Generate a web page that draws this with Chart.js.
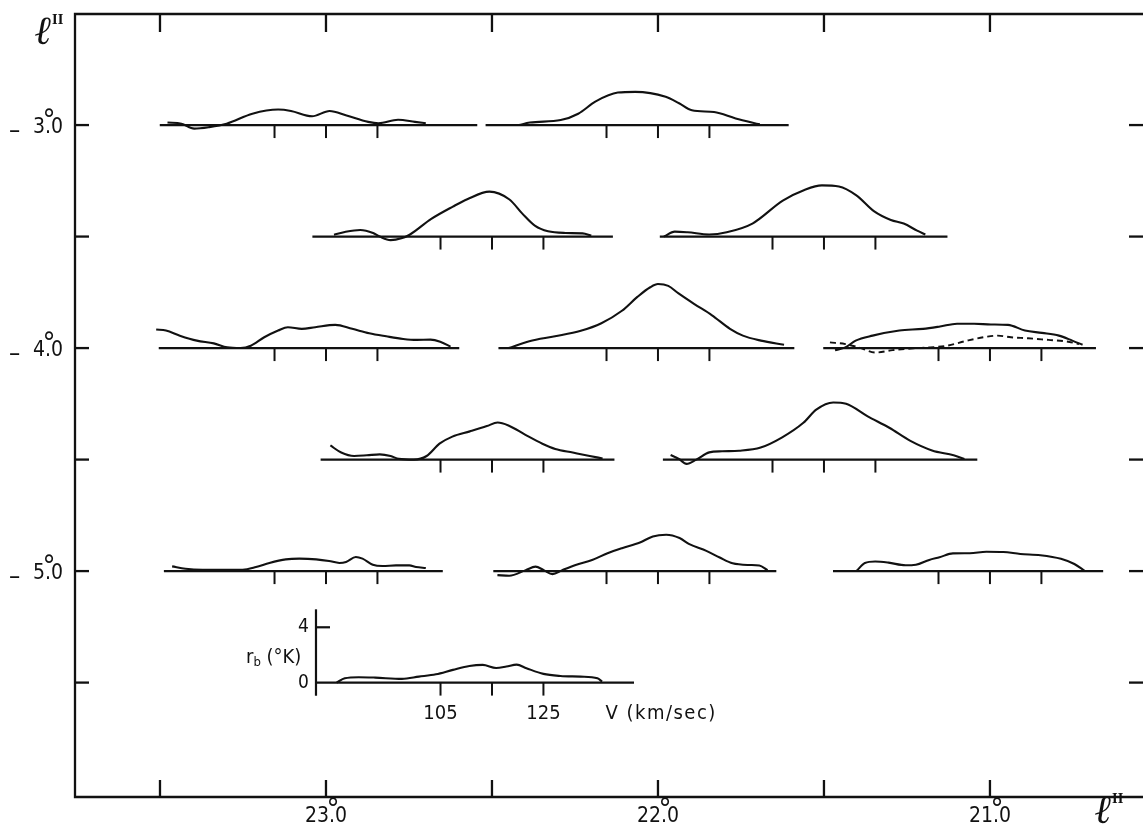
<!DOCTYPE html>
<html>
<head>
<meta charset="utf-8">
<script src="https://cdn.jsdelivr.net/npm/chart.js@4.4.0/dist/chart.umd.min.js"></script>
<style>
  html, body { margin: 0; padding: 0; background: #fff; }
  #wrap { width: 1143px; height: 826px; }
</style>
</head>
<body>
<div id="wrap"><canvas id="mapChart" width="1143" height="826"></canvas></div>
<script>
//---- Map frame: galactic longitude (reversed) and latitude, degrees ----
const L_MIN = 20.539, L_MAX = 23.756;
const B_MIN = -6.013, B_MAX = -2.502;
const lonTicks = [23.5, 23.0, 22.5, 22.0, 21.5, 21.0];
const lonLabels = [23, 22, 21];
const latTicks = [-3.0, -3.5, -4.0, -4.5, -5.0, -5.5];
const latLabels = [-3, -4, -5];

//---- Profile scale (same for every profile, shown by the key at 22.5, -5.5) ----
const V_CENTER = 115;          // km/s placed at the profile longitude
const DEG_PER_KMS = 0.0155;
const DEG_PER_K = 0.062;
const velTicks = [105, 115, 125];
const keyVelLabels = [105, 125];
const keyTempTicks = [0, 4];
const KEY_AXIS_V = 80.8;
const KEY_AXIS_T = [-0.95, 5.3];

//---- Profiles: velocity (km/s) and Tb (K) ----
const v_230_30 = [84.2, 86.9, 89.4, 92.3, 95.7, 100.7, 105.7, 108.2, 112.3, 115.7, 119.0, 123.2, 125.2, 129.0, 132.3, 134.4];
const t_230_30 = [0.18, 0.10, -0.26, -0.15, 0.10, 0.82, 1.12, 1.02, 0.64, 1.02, 0.69, 0.23, 0.13, 0.38, 0.23, 0.13];
const base_230_30 = [82.7, 144.4];

const v_220_30 = [88.0, 90.1, 96.1, 99.5, 102.9, 107.2, 110.6, 116.5, 119.1, 121.6, 125.9, 130.1, 134.8];
const t_220_30 = [0, 0.18, 0.36, 0.82, 1.71, 2.35, 2.40, 2.04, 1.58, 1.07, 0.94, 0.48, 0.05];
const base_220_30 = [81.5, 140.4];

const v_225_35 = [84.3, 86.4, 89.4, 91.9, 93.2, 95.3, 97.4, 99.0, 103.2, 107.4, 110.2, 114.5, 118.4, 120.9, 123.4, 125.9, 129.3, 132.6, 134.3];
const t_225_35 = [0.13, 0.33, 0.48, 0.26, 0, -0.26, -0.13, 0.13, 1.28, 2.17, 2.7, 3.25, 2.68, 1.66, 0.77, 0.38, 0.26, 0.23, 0.08];
const base_225_35 = [80.1, 138.5];

const v_215_35 = [83.9, 86.0, 88.5, 92.7, 96.1, 101.1, 107.0, 111.2, 114.6, 117.9, 121.3, 124.7, 128.0, 130.5, 133.1, 134.7];
const t_215_35 = [0, 0.36, 0.31, 0.15, 0.31, 0.94, 2.6, 3.37, 3.70, 3.62, 2.98, 1.84, 1.20, 0.94, 0.43, 0.15];
const base_215_35 = [83.1, 139.0];

const v_230_40 = [82.0, 83.9, 86.6, 89.9, 93.2, 95.8, 98.4, 100.4, 103.0, 105.7, 107.6, 110.3, 112.9, 116.8, 120.1, 123.4, 126.7, 130.0, 132.6, 135.3, 137.2, 139.2];
const t_230_40 = [1.34, 1.27, 0.90, 0.54, 0.34, 0.05, 0, 0.17, 0.78, 1.27, 1.51, 1.39, 1.51, 1.68, 1.39, 1.07, 0.85, 0.66, 0.59, 0.61, 0.46, 0.10];
const base_230_40 = [82.5, 140.9];

const v_220_40 = [86, 90, 95, 100, 104, 108, 111, 113.5, 115, 117, 119, 122, 125.5, 129, 131.5, 135, 139.5];
const t_220_40 = [0, 0.5, 0.85, 1.25, 1.8, 2.7, 3.7, 4.4, 4.63, 4.5, 3.95, 3.2, 2.37, 1.39, 0.9, 0.54, 0.24];
const base_220_40 = [84.0, 141.5];

const v_210_40 = [84.9, 86.9, 88.9, 92.2, 97.4, 102.0, 105.3, 108.6, 111.9, 115.2, 118.5, 121.8, 125.1, 128.4, 131.0, 133.0];
const t_210_40 = [-0.15, 0.05, 0.54, 0.90, 1.27, 1.39, 1.56, 1.76, 1.76, 1.71, 1.68, 1.27, 1.10, 0.90, 0.54, 0.24];
const v_210_40b = [83.9, 86.9, 89.5, 92.8, 96.1, 100.1, 103.4, 106.6, 110.6, 114.5, 116.5, 119.1, 122.4, 126.4, 129.7, 132.3];
const t_210_40b = [0.41, 0.29, 0.05, -0.32, -0.15, -0.02, 0.05, 0.17, 0.54, 0.83, 0.90, 0.78, 0.71, 0.59, 0.49, 0.29];
const base_210_40 = [82.6, 135.6];

const v_225_45 = [83.6, 85.7, 88.2, 90.7, 93.2, 95.3, 96.9, 99.8, 102.3, 104.8, 107.3, 110.7, 114.0, 116.1, 118.2, 121.5, 124.8, 127.3, 130.7, 134.0, 136.5];
const t_225_45 = [1.02, 0.51, 0.26, 0.31, 0.38, 0.26, 0.05, 0, 0.26, 1.15, 1.66, 2.04, 2.42, 2.68, 2.47, 1.79, 1.15, 0.77, 0.51, 0.26, 0.08];
const base_225_45 = [81.7, 138.8];

const v_215_45 = [85.2, 86.8, 88.3, 90.2, 92.7, 95.2, 98.5, 102.7, 106.8, 111.0, 113.5, 116.8, 119.3, 123.5, 127.7, 131.8, 136.0, 140.2, 142.3];
const t_215_45 = [0.33, 0.05, -0.31, 0, 0.52, 0.6, 0.64, 0.87, 1.59, 2.66, 3.61, 4.13, 4.04, 3.13, 2.30, 1.35, 0.66, 0.31, 0.05];
const base_215_45 = [83.7, 144.8];

const v_230_50 = [85.1, 87.7, 91.0, 94.9, 98.8, 101.4, 104.0, 107.2, 109.8, 113.1, 115.6, 117.6, 118.9, 120.8, 122.1, 124.1, 126.0, 128.6, 131.2, 132.5, 134.4];
const t_230_50 = [0.34, 0.17, 0.10, 0.10, 0.10, 0.29, 0.59, 0.85, 0.90, 0.85, 0.73, 0.59, 0.66, 1.02, 0.90, 0.46, 0.37, 0.41, 0.41, 0.29, 0.22];
const base_230_50 = [83.5, 137.7];

const v_220_50 = [83.8, 86.1, 89.3, 91.2, 92.8, 94.5, 96.4, 99.0, 102.2, 105.2, 108.0, 111.5, 114.0, 116.6, 119.2, 121.1, 124.4, 127.0, 129.5, 132.7, 134.7, 136.3];
const t_220_50 = [-0.29, -0.34, 0.07, 0.32, 0.07, -0.22, 0.07, 0.44, 0.80, 1.29, 1.66, 2.07, 2.51, 2.63, 2.39, 1.95, 1.46, 0.98, 0.56, 0.44, 0.41, 0.07];
const base_220_50 = [83.0, 138.0];

const v_210_50 = [89.1, 90.7, 92.7, 95.3, 98.6, 100.6, 103.2, 105.2, 107.8, 111.1, 114.3, 117.6, 120.9, 124.8, 128.8, 131.4, 133.4];
const t_210_50 = [0.03, 0.58, 0.69, 0.61, 0.42, 0.46, 0.81, 1.00, 1.28, 1.29, 1.40, 1.38, 1.24, 1.15, 0.89, 0.51, 0.02];
const base_210_50 = [84.5, 137.0];

// key profile with its own axes
const v_225_55 = [84.8, 86.4, 89.1, 92.3, 97.5, 100.8, 104.1, 107.4, 110.6, 113.2, 115.8, 117.8, 119.8, 121.7, 125.0, 128.3, 132.2, 135.5, 136.4];
const t_225_55 = [0, 0.31, 0.39, 0.36, 0.27, 0.43, 0.60, 0.92, 1.20, 1.28, 1.06, 1.16, 1.30, 1.04, 0.63, 0.48, 0.43, 0.31, 0.07];
const base_225_55 = [KEY_AXIS_V, 142.6];

const profiles = [
  { l: 23.0, b: -3.0, v: v_230_30, t: t_230_30, base: base_230_30 },
  { l: 22.0, b: -3.0, v: v_220_30, t: t_220_30, base: base_220_30 },
  { l: 22.5, b: -3.5, v: v_225_35, t: t_225_35, base: base_225_35 },
  { l: 21.5, b: -3.5, v: v_215_35, t: t_215_35, base: base_215_35 },
  { l: 23.0, b: -4.0, v: v_230_40, t: t_230_40, base: base_230_40 },
  { l: 22.0, b: -4.0, v: v_220_40, t: t_220_40, base: base_220_40 },
  { l: 21.0, b: -4.0, v: v_210_40, t: t_210_40, base: base_210_40, v2: v_210_40b, t2: t_210_40b },
  { l: 22.5, b: -4.5, v: v_225_45, t: t_225_45, base: base_225_45 },
  { l: 21.5, b: -4.5, v: v_215_45, t: t_215_45, base: base_215_45 },
  { l: 23.0, b: -5.0, v: v_230_50, t: t_230_50, base: base_230_50 },
  { l: 22.0, b: -5.0, v: v_220_50, t: t_220_50, base: base_220_50 },
  { l: 21.0, b: -5.0, v: v_210_50, t: t_210_50, base: base_210_50 },
  { l: 22.5, b: -5.5, v: v_225_55, t: t_225_55, base: base_225_55, key: true },
];

const INK = "#111111";
const FONT = "'DejaVu Sans Condensed', 'DejaVu Sans', sans-serif";

// velocity/temperature -> map coordinates
const lonOf = (p, v) => p.l - (v - V_CENTER) * DEG_PER_KMS;
const latOf = (p, t) => p.b + t * DEG_PER_K;
const toPoint = (p, v, t) => ({ x: lonOf(p, v), y: latOf(p, t) });

//---- Datasets: baseline + profile curve for each position ----
const datasets = [];
profiles.forEach((p) => {
  datasets.push({
    data: p.base.map((v) => toPoint(p, v, 0)),
    borderColor: INK, borderWidth: 2.2, pointRadius: 0, showLine: true,
  });
  datasets.push({
    data: p.v.map((v, i) => toPoint(p, v, p.t[i])),
    borderColor: INK, borderWidth: 2.1, pointRadius: 0, showLine: true,
    cubicInterpolationMode: "monotone",
  });
  if (p.v2) {
    datasets.push({
      data: p.v2.map((v, i) => toPoint(p, v, p.t2[i])),
      borderColor: INK, borderWidth: 1.9, pointRadius: 0, showLine: true,
      borderDash: [6, 4], cubicInterpolationMode: "monotone",
    });
  }
});

// text like 23.0 with the degree mark over the point
const degText = (ctx, whole, x, yb, align) => {
  const s = whole + ".0";
  ctx.font = "21px " + FONT;
  ctx.textAlign = "left";
  ctx.textBaseline = "alphabetic";
  const w = ctx.measureText(s).width;
  const x0 = align === "right" ? x - w : x - w / 2;
  ctx.fillText(s, x0, yb);
  const dotX = x0 + ctx.measureText(whole).width + ctx.measureText(".").width / 2;
  ctx.font = "29px " + FONT;
  ctx.textAlign = "center";
  ctx.fillText("°", dotX + 1, yb - 4);
};

const lonSymbol = (ctx, x, yb) => {
  ctx.textAlign = "left";
  ctx.textBaseline = "alphabetic";
  ctx.font = "bold italic 40px 'DejaVu Serif', serif";
  ctx.fillText("ℓ", x, yb);
  const w = ctx.measureText("ℓ").width;
  ctx.font = "bold 12px 'DejaVu Serif', serif";
  ctx.fillText("II", x + w, yb - 20);
};

//---- Plugin: frame, ticks, labels and the key axes ----
const frame = {
  id: "frame",
  afterDraw(chart) {
    const ctx = chart.ctx;
    const xs = chart.scales.x, ys = chart.scales.y;
    const a = chart.chartArea;
    const seg = (x1, y1, x2, y2) => {
      ctx.beginPath(); ctx.moveTo(x1, y1); ctx.lineTo(x2, y2); ctx.stroke();
    };
    ctx.save();
    ctx.strokeStyle = INK;
    ctx.fillStyle = INK;
    ctx.lineWidth = 2.3;

    // outer frame (right side is cut off in the original)
    ctx.beginPath();
    ctx.moveTo(a.right, a.top); ctx.lineTo(a.left, a.top);
    ctx.lineTo(a.left, a.bottom); ctx.lineTo(a.right, a.bottom);
    ctx.stroke();

    lonTicks.forEach((l) => {
      const px = xs.getPixelForValue(l);
      seg(px, a.top, px, a.top + 18);
      seg(px, a.bottom, px, a.bottom - 17);
    });
    latTicks.forEach((b) => {
      const py = ys.getPixelForValue(b);
      seg(a.left, py, a.left + 14, py);
      seg(a.right, py, a.right - 14, py);
    });

    lonLabels.forEach((l) => degText(ctx, String(l), xs.getPixelForValue(l), a.bottom + 25, "center"));
    latLabels.forEach((b) => {
      const py = ys.getPixelForValue(b);
      degText(ctx, String(Math.abs(b)), a.left - 12, py + 8, "right");
      ctx.font = "25px " + FONT;
      ctx.textAlign = "left";
      ctx.fillText("–", 9, py + 13);
    });

    lonSymbol(ctx, 35, 44);
    lonSymbol(ctx, 1095, 823);

    // velocity ticks below every baseline
    ctx.lineWidth = 2;
    profiles.forEach((p) => {
      const py = ys.getPixelForValue(p.b);
      velTicks.forEach((v) => {
        const px = xs.getPixelForValue(lonOf(p, v));
        seg(px, py, px, py + 13);
      });
    });

    // key axes
    const key = profiles.find((p) => p.key);
    const ax = xs.getPixelForValue(lonOf(key, KEY_AXIS_V));
    ctx.lineWidth = 2.2;
    seg(ax, ys.getPixelForValue(latOf(key, KEY_AXIS_T[1])), ax, ys.getPixelForValue(latOf(key, KEY_AXIS_T[0])));
    ctx.font = "19px " + FONT;
    ctx.textAlign = "right";
    ctx.textBaseline = "middle";
    keyTempTicks.forEach((t) => {
      const py = ys.getPixelForValue(latOf(key, t));
      if (t !== 0) seg(ax, py, ax + 14, py);
      ctx.fillText(String(t), ax - 7, py);
    });
    const py0 = ys.getPixelForValue(key.b);
    ctx.textBaseline = "alphabetic";
    ctx.font = "20px " + FONT;
    ctx.textAlign = "center";
    keyVelLabels.forEach((v) => {
      ctx.fillText(String(v), xs.getPixelForValue(lonOf(key, v)), py0 + 36);
    });
    ctx.textAlign = "left";
    ctx.letterSpacing = "1.5px";
    ctx.fillText("V (km/sec)", xs.getPixelForValue(lonOf(key, keyVelLabels[1])) + 62, py0 + 36);
    ctx.letterSpacing = "0px";

    // Tb (°K) label, drawn as in the scan
    const ty = ys.getPixelForValue(latOf(key, 1.8)) + 5;
    let tx = ax - 70;
    ctx.font = "20px " + FONT;
    ctx.fillText("r", tx, ty);
    tx += ctx.measureText("r").width;
    ctx.font = "13px " + FONT;
    ctx.fillText("b", tx, ty + 3);
    tx += ctx.measureText("b").width;
    ctx.font = "20px " + FONT;
    ctx.fillText(" (°K)", tx, ty);

    ctx.restore();
  },
};

const mapChart = new Chart(document.querySelector("#mapChart"), {
  type: "scatter",
  data: { datasets: datasets },
  options: {
    responsive: false,
    animation: false,
    devicePixelRatio: 1,
    layout: { padding: { left: 75, top: 14, right: 0, bottom: 29 } },
    scales: {
      x: { type: "linear", reverse: true, min: L_MIN, max: L_MAX, display: false },
      y: { type: "linear", min: B_MIN, max: B_MAX, display: false },
    },
    plugins: {
      legend: { display: false },
      tooltip: { enabled: false },
    },
  },
  plugins: [frame],
});
</script>
</body>
</html>
